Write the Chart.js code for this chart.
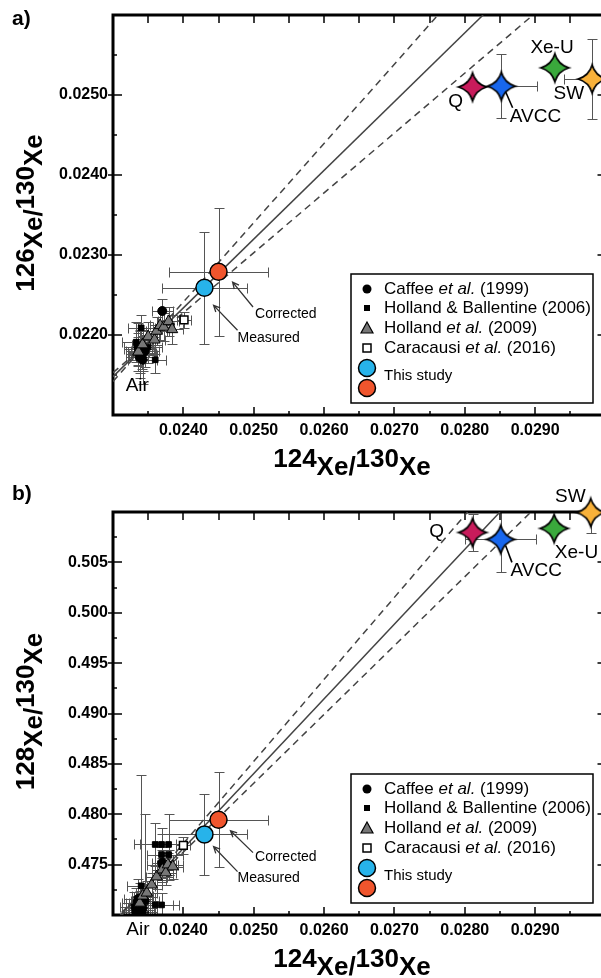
<!DOCTYPE html>
<html>
<head>
<meta charset="utf-8">
<script src="https://cdn.jsdelivr.net/npm/chart.js@4.4.1/dist/chart.umd.min.js"></script>
<style>
  html, body { margin: 0; padding: 0; background: #fff; overflow: hidden; }
  .wrapA { position: relative; width: 640px; height: 481px; }
  .wrapB { position: relative; width: 640px; height: 497px; }
</style>
</head>
<body>
<div class="wrapA"><canvas id="chartA"></canvas></div>
<div class="wrapB"><canvas id="chartB"></canvas></div>
<script>
// ---------- panel a) 126Xe/130Xe vs 124Xe/130Xe ----------
const caffeeA_x  = [0.02370, 0.02339, 0.02336, 0.02342, 0.02345, 0.02338];
const caffeeA_y  = [0.02230, 0.02176, 0.02185, 0.02169, 0.02180, 0.02172];
const caffeeA_ex = [0.00015, 0.00020, 0.00020, 0.00020, 0.00020, 0.00020];
const caffeeA_ey = [0.00015, 0.00030, 0.00030, 0.00030, 0.00020, 0.00020];

const hbA_x  = [0.02340, 0.02360, 0.02333, 0.02338, 0.02343, 0.02350, 0.02335, 0.02341];
const hbA_y  = [0.02209, 0.02169, 0.02191, 0.02180, 0.02175, 0.02185, 0.02183, 0.02178];
const hbA_ex = [0.00019, 0.00015, 0.00020, 0.00020, 0.00020, 0.00020, 0.00020, 0.00020];
const hbA_ey = [0.00016, 0.00016, 0.00025, 0.00025, 0.00020, 0.00020, 0.00020, 0.00020];

const hol09A_x  = [0.02336, 0.02342, 0.02350, 0.02359, 0.02362, 0.02367, 0.02372, 0.02379, 0.02384];
const hol09A_y  = [0.02179, 0.02188, 0.02198, 0.02194, 0.02205, 0.02212, 0.02210, 0.02217, 0.02207];
const hol09A_ex = [0.00015, 0.00015, 0.00015, 0.00015, 0.00015, 0.00015, 0.00015, 0.00015, 0.00015];
const hol09A_ey = [0.00018, 0.00018, 0.00018, 0.00018, 0.00018, 0.00018, 0.00018, 0.00018, 0.00018];

const caraA_x = [0.02401], caraA_y = [0.02219], caraA_ex = [0.0001], caraA_ey = [0.0001];

// measured, corrected
const studyA_x  = [0.02430, 0.02450];
const studyA_y  = [0.02259, 0.02279];
const studyA_ex = [0.0006, 0.0007];
const studyA_ey = [0.0007, 0.0008];

// end-members: Q, AVCC, Xe-U, SW
const endNames = ['Q', 'AVCC', 'Xe-U', 'SW'];
const endA_x  = [0.02811, 0.02852, 0.02928, 0.02981];
const endA_y  = [0.02510, 0.02511, 0.02534, 0.02520];
const endA_ex = [0.00005, 0.0005, 0.00005, 0.0004];
const endA_ey = [0.00005, 0.0004, 0.00005, 0.0005];

// regression line and envelope
const solidA_x = [0.0230, 0.02826], solidA_y = [0.02148, 0.0260];
const upperA_x = [0.0230, 0.02762], upperA_y = [0.02142, 0.0260];
const lowerA_x = [0.0230, 0.02897], lowerA_y = [0.02153, 0.0260];

// ---------- panel b) 128Xe/130Xe vs 124Xe/130Xe ----------
const caffeeB_x  = [0.02370, 0.02339, 0.02336, 0.02342, 0.02345, 0.02333];
const caffeeB_y  = [0.4752, 0.4712, 0.4716, 0.4707, 0.4714, 0.4703];
const caffeeB_ex = [0.00015, 0.00020, 0.00020, 0.00020, 0.00020, 0.00020];
const caffeeB_ey = [0.0015, 0.0020, 0.0020, 0.0020, 0.0086, 0.0015];

const hbB_x  = [0.02360, 0.02369, 0.02379, 0.02369, 0.02379, 0.02369, 0.02379, 0.02340, 0.02360, 0.02369, 0.02333, 0.02338, 0.02330, 0.02343, 0.02336];
const hbB_y  = [0.4770, 0.4770, 0.4770, 0.4760, 0.4760, 0.4750, 0.4750, 0.4729, 0.4710, 0.4710, 0.4712, 0.4705, 0.4708, 0.4703, 0.4701];
const hbB_ex = [0.0003, 0.0003, 0.0002, 0.0002, 0.0002, 0.0002, 0.0002, 0.0002, 0.00025, 0.00025, 0.0002, 0.0002, 0.0002, 0.0002, 0.0002];
const hbB_ey = [0.0021, 0.0016, 0.0030, 0.0020, 0.0020, 0.0015, 0.0015, 0.0110, 0.0012, 0.0012, 0.0015, 0.0015, 0.0015, 0.0015, 0.0015];

const hol09B_x  = [0.02338, 0.02342, 0.02348, 0.02355, 0.02362, 0.02370, 0.02375, 0.02378, 0.02385];
const hol09B_y  = [0.4712, 0.4719, 0.4722, 0.4730, 0.4738, 0.4745, 0.4742, 0.4750, 0.4748];
const hol09B_ex = [0.00015, 0.00015, 0.00015, 0.00015, 0.00015, 0.00015, 0.00015, 0.00015, 0.00015];
const hol09B_ey = [0.0012, 0.0012, 0.0012, 0.0012, 0.0012, 0.0012, 0.0012, 0.0012, 0.0012];

const caraB_x = [0.02400], caraB_y = [0.4769], caraB_ex = [0.0001], caraB_ey = [0.0008];

const studyB_x  = [0.02430, 0.02450];
const studyB_y  = [0.4780, 0.47946];
const studyB_ex = [0.0006, 0.0007];
const studyB_ey = [0.0040, 0.0047];

const endB_x  = [0.02811, 0.02851, 0.02927, 0.02979];
const endB_y  = [0.50797, 0.50728, 0.50837, 0.50995];
const endB_ex = [0.00005, 0.0005, 0.00005, 0.00005];
const endB_ey = [0.0018, 0.0032, 0.0005, 0.0020];

const solidB_x = [0.0230, 0.02850], solidB_y = [0.46920, 0.5100];
const upperB_x = [0.0230, 0.02804], upperB_y = [0.46895, 0.5100];
const lowerB_x = [0.0230, 0.02894], lowerB_y = [0.46941, 0.5100];

const legendRows = [
  ['Caffee ', 'et al.', ' (1999)'],
  ['Holland & Ballentine (2006)'],
  ['Holland ', 'et al.', ' (2009)'],
  ['Caracausi ', 'et al.', ' (2016)'],
  ['This study']
];

const FONT = '"Liberation Sans", Arial, Helvetica, sans-serif';
const BLUE = '#27b3ea', ORANGE = '#f0552d';
const STAR_COLORS = ['#c81b5b', '#1867ee', '#3aa93c', '#f8b13a'];

const pts = (xs, ys) => xs.map((v, i) => ({x: v, y: ys[i]}));

function makeStar(color) {
  const c = document.createElement('canvas');
  c.width = 36; c.height = 36;
  const g = c.getContext('2d');
  const R = 14, k = 3.2, cx = 18, cy = 18;
  g.beginPath();
  g.moveTo(cx, cy - R);
  g.quadraticCurveTo(cx + k, cy - k, cx + R, cy);
  g.quadraticCurveTo(cx + k, cy + k, cx, cy + R);
  g.quadraticCurveTo(cx - k, cy + k, cx - R, cy);
  g.quadraticCurveTo(cx - k, cy - k, cx, cy - R);
  g.closePath();
  g.fillStyle = color;
  g.fill();
  g.lineWidth = 1.7;
  g.strokeStyle = '#000';
  g.stroke();
  return c;
}
const stars = STAR_COLORS.map(makeStar);

// error bars under the markers
const errorBars = {
  id: 'errorBars',
  beforeDatasetsDraw(chart) {
    const {ctx, chartArea: a, scales: {x, y}} = chart;
    ctx.save();
    ctx.beginPath();
    ctx.rect(a.left, a.top, a.right - a.left, a.bottom - a.top);
    ctx.clip();
    ctx.strokeStyle = '#555';
    ctx.lineWidth = 1;
    const c = 5;
    chart.data.datasets.forEach(ds => {
      if (!ds.errX) return;
      ds.data.forEach((p, i) => {
        const px = Math.round(x.getPixelForValue(p.x)) + 0.5;
        const py = Math.round(y.getPixelForValue(p.y)) + 0.5;
        const x0 = Math.round(x.getPixelForValue(p.x - ds.errX[i])) + 0.5;
        const x1 = Math.round(x.getPixelForValue(p.x + ds.errX[i])) + 0.5;
        const y0 = Math.round(y.getPixelForValue(p.y - ds.errY[i])) + 0.5;
        const y1 = Math.round(y.getPixelForValue(p.y + ds.errY[i])) + 0.5;
        ctx.beginPath();
        ctx.moveTo(x0, py); ctx.lineTo(x1, py);
        ctx.moveTo(x0, py - c); ctx.lineTo(x0, py + c);
        ctx.moveTo(x1, py - c); ctx.lineTo(x1, py + c);
        ctx.moveTo(px, y0); ctx.lineTo(px, y1);
        ctx.moveTo(px - c, y0); ctx.lineTo(px + c, y0);
        ctx.moveTo(px - c, y1); ctx.lineTo(px + c, y1);
        ctx.stroke();
      });
    });
    ctx.restore();
  }
};

// box frame with inward ticks
const frame = {
  id: 'frame',
  beforeDatasetsDraw(chart) {
    const {ctx, chartArea: a, scales: {x, y}} = chart;
    ctx.save();
    ctx.strokeStyle = '#000';
    ctx.lineWidth = 1.5;
    ctx.beginPath();
    x.ticks.forEach(t => {
      const px = Math.round(x.getPixelForValue(t.value));
      if (px <= a.left + 3 || px >= a.right - 3) return;
      const major = t.label !== '';
      ctx.moveTo(px, a.bottom); ctx.lineTo(px, a.bottom - (major ? 8 : 4));
      ctx.moveTo(px, a.top); ctx.lineTo(px, a.top + 8);
    });
    y.ticks.forEach(t => {
      const py = Math.round(y.getPixelForValue(t.value));
      if (py <= a.top + 3 || py >= a.bottom - 3) return;
      const major = t.label !== '';
      ctx.moveTo(a.left - (major ? 5 : 0), py); ctx.lineTo(a.left + (major ? 9 : 4), py);
      ctx.moveTo(a.right, py); ctx.lineTo(a.right - (major ? 8 : 4), py);
    });
    ctx.stroke();
    ctx.lineWidth = 3;
    ctx.strokeRect(a.left, a.top, a.right - a.left, a.bottom - a.top);
    ctx.restore();
  }
};

function drawRich(ctx, parts, cx, base) {
  ctx.font = 'bold 26px ' + FONT;
  ctx.textAlign = 'left';
  ctx.textBaseline = 'alphabetic';
  const w = parts.reduce((s, p) => s + ctx.measureText(p[0]).width, 0);
  let x = cx - w / 2;
  parts.forEach(p => {
    ctx.fillText(p[0], x, base - (p[1] ? 8 : 0));
    x += ctx.measureText(p[0]).width;
  });
}

function drawArrow(ctx, x0, y0, x1, y1) {
  const ang = Math.atan2(y1 - y0, x1 - x0), h = 7;
  ctx.beginPath();
  ctx.moveTo(x0, y0); ctx.lineTo(x1, y1);
  ctx.moveTo(x1 - h * Math.cos(ang - 0.45), y1 - h * Math.sin(ang - 0.45));
  ctx.lineTo(x1, y1);
  ctx.lineTo(x1 - h * Math.cos(ang + 0.45), y1 - h * Math.sin(ang + 0.45));
  ctx.stroke();
}

// titles, text labels, arrows, legend
const deco = {
  id: 'deco',
  afterDraw(chart, args, o) {
    const {ctx, chartArea: a, scales: {x, y}} = chart;
    const X = v => x.getPixelForValue(v), Y = v => y.getPixelForValue(v);
    ctx.save();
    ctx.fillStyle = '#000';
    ctx.strokeStyle = '#000';

    ctx.font = 'bold 21px ' + FONT;
    ctx.textAlign = 'left';
    ctx.textBaseline = 'alphabetic';
    ctx.fillText(o.panel, 12, o.panelY);

    drawRich(ctx, o.xTitle, a.left + 239, a.bottom + 60);
    ctx.save();
    ctx.translate(42, (a.top + a.bottom) / 2 - 2);
    ctx.rotate(-Math.PI / 2);
    drawRich(ctx, o.yTitle, 0, 0);
    ctx.restore();

    ctx.textBaseline = 'middle';
    o.labels.forEach(l => {
      ctx.font = l.size + 'px ' + FONT;
      ctx.textAlign = l.align;
      ctx.fillText(l.text, X(l.x), Y(l.y));
    });

    ctx.lineWidth = 1.6;
    o.leaders.forEach(l => {
      ctx.beginPath();
      ctx.moveTo(X(l[0]), Y(l[1])); ctx.lineTo(X(l[2]), Y(l[3]));
      ctx.stroke();
    });
    ctx.strokeStyle = '#333';
    ctx.lineWidth = 1.3;
    o.arrows.forEach(l => drawArrow(ctx, X(l[0]), Y(l[1]), X(l[2]), Y(l[3])));

    // legend
    const W = 242, H = 129, L = a.left + 238, T = a.bottom - 12 - H;
    ctx.fillStyle = '#fff';
    ctx.fillRect(L, T, W, H);
    ctx.strokeStyle = '#000';
    ctx.lineWidth = 1.5;
    ctx.strokeRect(L, T, W, H);
    const mx = L + 16;
    ctx.fillStyle = '#000';
    ctx.beginPath(); ctx.arc(mx, T + 15, 4.5, 0, Math.PI * 2); ctx.fill();
    ctx.fillRect(mx - 3, T + 31, 6, 6);
    ctx.beginPath();
    ctx.moveTo(mx, T + 48); ctx.lineTo(mx + 6, T + 59); ctx.lineTo(mx - 6, T + 59); ctx.closePath();
    ctx.fillStyle = '#777'; ctx.fill(); ctx.lineWidth = 1.2; ctx.stroke();
    ctx.fillStyle = '#fff'; ctx.lineWidth = 1.5;
    ctx.fillRect(mx - 4, T + 70, 8, 8); ctx.strokeRect(mx - 4, T + 70, 8, 8);
    [[BLUE, 94], [ORANGE, 114]].forEach(c => {
      ctx.beginPath(); ctx.arc(mx, T + c[1], 8.5, 0, Math.PI * 2);
      ctx.fillStyle = c[0]; ctx.fill(); ctx.stroke();
    });
    ctx.fillStyle = '#000';
    ctx.textAlign = 'left';
    ctx.textBaseline = 'middle';
    const rowY = [15, 34, 54, 74, 102];
    legendRows.forEach((row, r) => {
      let tx = L + 33;
      row.forEach((seg, i) => {
        ctx.font = (i % 2 ? 'italic ' : '') + (r === 4 ? 15 : 17) + 'px ' + FONT;
        ctx.fillText(seg, tx, T + rowY[r]);
        tx += ctx.measureText(seg).width;
      });
    });
    ctx.restore();
  }
};

function xLabel(v) {
  if (Math.abs(v - this.min) < 1e-9 || Math.abs(v - this.max) < 1e-9) return '';
  return Math.round(v * 1e4) % 10 === 0 ? v.toFixed(4) : '';
}
function yLabelA(v) {
  if (Math.abs(v - this.min) < 1e-9 || Math.abs(v - this.max) < 1e-9) return '';
  return Math.round(v * 1e4) % 10 === 0 ? v.toFixed(4) : '';
}
function yLabelB(v) {
  if (Math.abs(v - this.min) < 1e-9 || Math.abs(v - this.max) < 1e-9) return '';
  return Math.round(v * 1e4) % 50 === 0 ? v.toFixed(3) : '';
}

function makeChart(id, s) {
  const tickFont = {family: FONT, size: 16, weight: 'bold'};
  const lineDs = (xs, ys, dash) => ({
    data: pts(xs, ys), showLine: true, pointRadius: 0, borderColor: '#444',
    borderWidth: 1.5, borderDash: dash, order: 9
  });
  const datasets = [
    lineDs(s.solid[0], s.solid[1], []),
    lineDs(s.upper[0], s.upper[1], [7, 5]),
    lineDs(s.lower[0], s.lower[1], [7, 5]),
    { label: 'Holland & Ballentine (2006)', data: pts(s.hb[0], s.hb[1]), errX: s.hb[2], errY: s.hb[3],
      pointStyle: 'rect', pointRadius: 4, backgroundColor: '#000', borderColor: '#000', borderWidth: 1, order: 6 },
    { label: 'Caffee et al. (1999)', data: pts(s.caffee[0], s.caffee[1]), errX: s.caffee[2], errY: s.caffee[3],
      pointStyle: 'circle', pointRadius: 4.5, backgroundColor: '#000', borderColor: '#000', borderWidth: 1, order: 5 },
    { label: 'Holland et al. (2009)', data: pts(s.hol09[0], s.hol09[1]), errX: s.hol09[2], errY: s.hol09[3],
      pointStyle: 'triangle', pointRadius: 6.5, backgroundColor: '#777', borderColor: '#000', borderWidth: 1, order: 4 },
    { label: 'Caracausi et al. (2016)', data: pts(s.cara[0], s.cara[1]), errX: s.cara[2], errY: s.cara[3],
      pointStyle: 'rect', pointRadius: 5.5, backgroundColor: '#fff', borderColor: '#000', borderWidth: 1.5, order: 3 },
    { label: 'This study', data: pts(s.study[0], s.study[1]), errX: s.study[2], errY: s.study[3],
      pointStyle: 'circle', pointRadius: 8.5, backgroundColor: [BLUE, ORANGE], borderColor: '#000', borderWidth: 1.5, order: 2 },
    { label: 'End-members', data: pts(s.end[0], s.end[1]), errX: s.end[2], errY: s.end[3],
      pointStyle: stars, pointRadius: 14, clip: false, order: 1 }
  ];
  return new Chart(document.getElementById(id), {
    type: 'scatter',
    data: {datasets},
    plugins: [errorBars, frame, deco],
    options: {
      responsive: true,
      maintainAspectRatio: false,
      animation: false,
      events: [],
      layout: {padding: {top: s.padTop, left: 0, right: 34.5, bottom: 0}},
      scales: {
        x: {
          type: 'linear', min: 0.0230, max: 0.0300,
          grid: {display: false, drawTicks: false}, border: {display: false},
          ticks: {stepSize: 0.0005, autoSkip: false, maxRotation: 0, padding: 6, color: '#000', font: tickFont, callback: xLabel},
          afterFit(sc) { sc.height = s.xAxisH; }
        },
        y: {
          type: 'linear', min: s.yMin, max: s.yMax,
          grid: {display: false, drawTicks: false}, border: {display: false},
          ticks: {stepSize: s.yStep, autoSkip: false, padding: 5, color: '#000', font: tickFont, callback: s.yLabel},
          afterFit(sc) { sc.width = 113; }
        }
      },
      plugins: {
        legend: {display: false},
        tooltip: {enabled: false},
        deco: {
          panel: s.panel, panelY: s.panelY,
          xTitle: [['124', 1], ['Xe/', 0], ['130', 1], ['Xe', 0]],
          yTitle: s.yTitle,
          labels: s.labels, leaders: s.leaders, arrows: s.arrows
        }
      }
    }
  });
}

makeChart('chartA', {
  panel: 'a)', panelY: 25, padTop: 12, xAxisH: 66,
  yMin: 0.0210, yMax: 0.0260, yStep: 0.0005, yLabel: yLabelA,
  yTitle: [['126', 1], ['Xe/', 0], ['130', 1], ['Xe', 0]],
  caffee: [caffeeA_x, caffeeA_y, caffeeA_ex, caffeeA_ey],
  hb: [hbA_x, hbA_y, hbA_ex, hbA_ey],
  hol09: [hol09A_x, hol09A_y, hol09A_ex, hol09A_ey],
  cara: [caraA_x, caraA_y, caraA_ex, caraA_ey],
  study: [studyA_x, studyA_y, studyA_ex, studyA_ey],
  end: [endA_x, endA_y, endA_ex, endA_ey],
  solid: [solidA_x, solidA_y], upper: [upperA_x, upperA_y], lower: [lowerA_x, lowerA_y],
  labels: [
    {text: endNames[2], x: 0.02924, y: 0.02559, align: 'center', size: 19},
    {text: endNames[3], x: 0.02948, y: 0.02502, align: 'center', size: 19},
    {text: endNames[0], x: 0.02787, y: 0.02492, align: 'center', size: 19},
    {text: endNames[1], x: 0.02864, y: 0.02473, align: 'left', size: 19},
    {text: 'Air', x: 0.02318, y: 0.02137, align: 'left', size: 19},
    {text: 'Corrected', x: 0.02502, y: 0.02226, align: 'left', size: 14},
    {text: 'Measured', x: 0.02477, y: 0.02196, align: 'left', size: 14}
  ],
  leaders: [[0.02858, 0.02504, 0.02868, 0.02484]],
  arrows: [[0.02499, 0.02235, 0.02470, 0.02266], [0.02477, 0.02206, 0.02443, 0.02237]]
});

makeChart('chartB', {
  panel: 'b)', panelY: 19, padTop: 31, xAxisH: 63,
  yMin: 0.470, yMax: 0.510, yStep: 0.0025, yLabel: yLabelB,
  yTitle: [['128', 1], ['Xe/', 0], ['130', 1], ['Xe', 0]],
  caffee: [caffeeB_x, caffeeB_y, caffeeB_ex, caffeeB_ey],
  hb: [hbB_x, hbB_y, hbB_ex, hbB_ey],
  hol09: [hol09B_x, hol09B_y, hol09B_ex, hol09B_ey],
  cara: [caraB_x, caraB_y, caraB_ex, caraB_ey],
  study: [studyB_x, studyB_y, studyB_ex, studyB_ey],
  end: [endB_x, endB_y, endB_ex, endB_ey],
  solid: [solidB_x, solidB_y], upper: [upperB_x, upperB_y], lower: [lowerB_x, lowerB_y],
  labels: [
    {text: endNames[3], x: 0.02950, y: 0.51153, align: 'center', size: 19},
    {text: endNames[0], x: 0.02760, y: 0.50807, align: 'center', size: 19},
    {text: endNames[2], x: 0.02928, y: 0.50599, align: 'left', size: 19},
    {text: endNames[1], x: 0.02865, y: 0.50421, align: 'left', size: 19},
    {text: 'Air', x: 0.02319, y: 0.46856, align: 'left', size: 19},
    {text: 'Corrected', x: 0.02502, y: 0.47579, align: 'left', size: 14},
    {text: 'Measured', x: 0.02477, y: 0.47361, align: 'left', size: 14}
  ],
  leaders: [[0.02858, 0.50668, 0.02867, 0.50500]],
  arrows: [[0.02499, 0.47619, 0.02467, 0.47837], [0.02477, 0.47431, 0.02443, 0.47678]]
});
</script>
</body>
</html>
